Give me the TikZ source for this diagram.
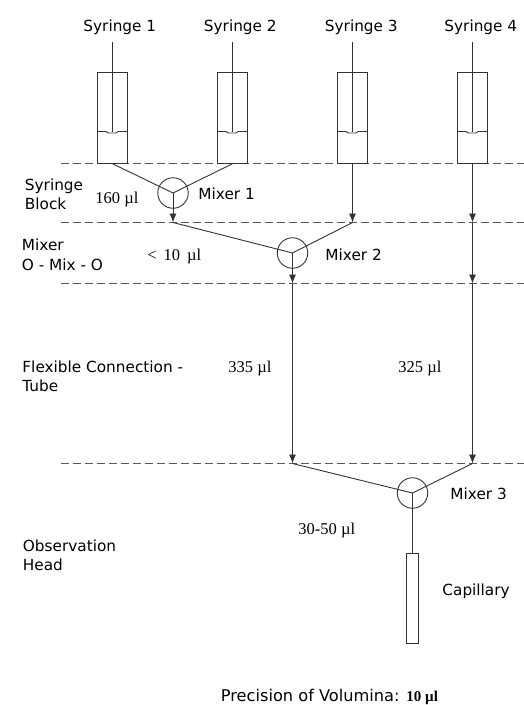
\documentclass[tikz,border=0pt]{standalone}
\usepackage{fontspec}
\setmainfont{Liberation Serif}
\setsansfont{DejaVu Sans}
\usetikzlibrary{arrows.meta}
\tikzset{
  barrel/.style={draw, minimum width=30pt, minimum height=90.5pt, inner sep=0pt},
  mixer/.style={draw, circle, minimum size=30.5pt, inner sep=0pt},
  capillary/.style={draw, minimum width=12pt, minimum height=90.5pt, inner sep=0pt},
  sans/.style={anchor=base west, inner sep=0pt, align=left, font=\fontsize{15.3}{19}\selectfont\sffamily},
  vol/.style={anchor=base west, inner sep=0pt, font=\fontsize{16.5}{19}\selectfont\rmfamily},
  level/.style={dash pattern=on 8pt off 4pt, black!65}
}
\begin{document}
\begin{tikzpicture}[x=1pt, y=-1pt, line width=0.9pt, draw=black!80, >={Latex[length=9pt,width=7pt]}]
        \useasboundingbox (0,0) rectangle (524,705);

        % 1. Linee tratteggiate
        \coordinate (lev1) at (61,163.5);
        \coordinate (lev2) at (61,222.5);
        \coordinate (lev3) at (61,283.5);
        \coordinate (lev4) at (61,463.5);
        \coordinate (right) at (524,0);
        \draw[level] (lev1) -- (lev1 -| right);
        \draw[level] (lev2) -- (lev2 -| right);
        \draw[level] (lev3) -- (lev3 -| right);
        \draw[level] (lev4) -- (lev4 -| right);

        % 2. Siringhe
        \node[barrel] (syr1) at (112.5,118) {};
        \node[barrel] (syr2) at (232.5,118) {};
        \node[barrel] (syr3) at (352.5,118) {};
        \node[barrel] (syr4) at (472.5,118) {};

        \coordinate (rod1) at (112.5,42);
        \coordinate (rod2) at (232.5,42);
        \coordinate (rod3) at (352.5,42);
        \coordinate (rod4) at (472.5,42);

        \draw (rod1) -- (rod1 |- 0,132);
        \draw (rod2) -- (rod2 |- 0,132);
        \draw (rod3) -- (rod3 |- 0,132);
        \draw (rod4) -- (rod4 |- 0,132);

        \draw (syr1.west |- 0,131.5) -- ++(9,0) -- ++(2,1.5) -- ++(8,0) -- ++(2,-1.5) -- (syr1.east |- 0,131.5);
        \draw (syr2.west |- 0,131.5) -- ++(9,0) -- ++(2,1.5) -- ++(8,0) -- ++(2,-1.5) -- (syr2.east |- 0,131.5);
        \draw (syr3.west |- 0,131.5) -- ++(9,0) -- ++(2,1.5) -- ++(8,0) -- ++(2,-1.5) -- (syr3.east |- 0,131.5);
        \draw (syr4.west |- 0,131.5) -- ++(9,0) -- ++(2,1.5) -- ++(8,0) -- ++(2,-1.5) -- (syr4.east |- 0,131.5);

        % 3. Miscelatori e capillare
        \node[mixer] (mix1) at (173,193) {};
        \node[mixer] (mix2) at (292.5,253) {};
        \node[mixer] (mix3) at (412.5,493) {};
        \node[capillary] (cap) at (412.5,598.5) {};

        % 4. Punti sulle linee tratteggiate
        \coordinate (in2a) at (173,222.5);
        \coordinate (in2b) at (352.5,222.5);
        \coordinate (side2) at (472.5,222.5);
        \coordinate (out2) at (292.5,283.5);
        \coordinate (side3) at (472.5,283.5);
        \coordinate (in3a) at (292.5,463.5);
        \coordinate (in3b) at (472.5,463.5);

        % 5. Collegamenti
        \draw (syr1.south) -- (mix1.center);
        \draw (syr2.south) -- (mix1.center);
        \draw[->] (mix1.center) -- (in2a);
        \draw[->] (syr3.south) -- (in2b);
        \draw[->] (syr4.south) -- (side2);

        \draw (in2a) -- (mix2.center);
        \draw (in2b) -- (mix2.center);
        \draw[->] (mix2.center) -- (out2);
        \draw[->] (side2) -- (side3);

        \draw[->] (out2) -- (in3a);
        \draw[->] (side3) -- (in3b);

        \draw (in3a) -- (mix3.center);
        \draw (in3b) -- (mix3.center);
        \draw (mix3.center) -- (cap.north);

        % 6. Testi
        \node[sans] (lab1) at (83,31) {Syringe 1};
        \node[sans] (lab2) at (203.5,31) {Syringe 2};
        \node[sans] (lab3) at (324.5,31) {Syringe 3};
        \node[sans] (lab4) at (444,31) {Syringe 4};

        \node[sans] (mlab1) at (198,199) {Mixer 1};
        \node[sans] (mlab2) at (325,260) {Mixer 2};
        \node[sans] (mlab3) at (450,499) {Mixer 3};
        \node[sans] (caplab) at (442,595) {Capillary};

        \node[sans] (zone1) at (24.5,190.5) {Syringe};
        \node[sans] (zone1b) at (24.5,209) {Block};
        \node[sans] (zone2) at (21.5,250.5) {Mixer};
        \node[sans] (zone2b) at (21.5,270) {O - Mix - O};
        \node[sans] (zone3) at (22,372) {Flexible Connection -};
        \node[sans] (zone3b) at (22,391) {Tube};
        \node[sans] (zone4) at (22.5,551) {Observation};
        \node[sans] (zone4b) at (22.5,570) {Head};

        \node[vol] (vol1) at (95,203) {160 µl};
        \node[vol] (vol2) at (147,260.5) {<\, 10\, µl};
        \node[vol] (vol3) at (228,372) {335 µl};
        \node[vol] (vol4) at (398,372) {325 µl};
        \node[vol] (vol5) at (298,534) {30-50 µl};

        \node[sans, font=\fontsize{16.2}{19}\selectfont\sffamily] (prec) at (220.5,701) {Precision of Volumina: {\rmfamily\bfseries\fontsize{15}{19}\selectfont 10 µl}};

    \end{tikzpicture}
\end{document}
